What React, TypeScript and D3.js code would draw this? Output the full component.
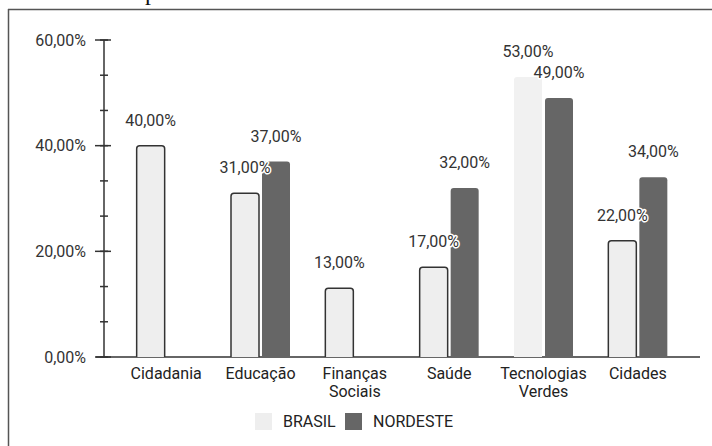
import React, { useEffect, useRef } from "react";
import * as d3 from "d3";

const W = 712;
const H = 446;

const categories = ["Cidadania", "Educação", "Finanças\nSociais", "Saúde", "Tecnologias\nVerdes", "Cidades"];
const seriesNames = ["BRASIL", "NORDESTE"];
const brasil = [40, 31, 13, 17, 53, 22];
const nordeste: (number | null)[] = [null, 37, null, 32, 49, 34];
const yTicks = [0, 20, 40, 60];

const COLORS = ["#eeeeee", "#666666"];
const FONT = "Roboto, 'Liberation Sans', sans-serif";

const fmt = (v: number) => v.toFixed(2).replace(".", ",") + "%";

export default function App() {
  const ref = useRef<SVGSVGElement>(null);

  useEffect(() => {
    const svg = d3.select(ref.current);
    svg.selectAll("*").remove();

    // frame (only top and left edges are visible in the crop)
    svg.append("line").attr("x1", 8).attr("x2", W).attr("y1", 9.5).attr("y2", 9.5)
      .attr("stroke", "#555").attr("stroke-width", 1.5);
    svg.append("line").attr("x1", 8.5).attr("x2", 8.5).attr("y1", 9).attr("y2", H)
      .attr("stroke", "#555").attr("stroke-width", 1.5);
    // cut-off heading above the frame
    svg.append("text").attr("x", 145).attr("y", 0).attr("font-family", "'Liberation Serif', serif")
      .attr("font-size", 24).attr("fill", "#111").text("p");

    const x = d3.scaleBand<string>().domain(categories).range([119, 685]).paddingInner(0);
    const y = d3.scaleLinear().domain([0, 60]).range([357, 40]);
    const barW = 28;
    const gap = 3;

    // y axis
    const g = svg.append("g");
    g.append("line").attr("x1", 104).attr("x2", 104).attr("y1", y(60)).attr("y2", y(0))
      .attr("stroke", "#333").attr("stroke-width", 1.5);
    const minor = d3.range(0, 60.01, 20 / 3);
    minor.forEach((t) => {
      g.append("line").attr("x1", 100).attr("x2", 108).attr("y1", y(t)).attr("y2", y(t))
        .attr("stroke", "#333").attr("stroke-width", 1.5);
    });
    yTicks.forEach((t) => {
      g.append("line").attr("x1", 95).attr("x2", 111).attr("y1", y(t)).attr("y2", y(t))
        .attr("stroke", "#333").attr("stroke-width", 1.5);
      g.append("text").attr("x", 86).attr("y", y(t)).attr("dy", "0.35em")
        .attr("text-anchor", "end").attr("font-family", FONT).attr("font-size", 16)
        .attr("fill", "#333").text(fmt(t));
    });
    // x baseline
    g.append("line").attr("x1", 96).attr("x2", 700).attr("y1", y(0)).attr("y2", y(0))
      .attr("stroke", "#333").attr("stroke-width", 1.5);

    const barPath = (x0: number, w: number, top: number, bottom: number, r: number) =>
      `M${x0},${bottom}V${top + r}Q${x0},${top} ${x0 + r},${top}H${x0 + w - r}Q${x0 + w},${top} ${x0 + w},${top + r}V${bottom}`;

    const bars = svg.append("g");
    const labels: { x: number; y: number; t: string }[] = [];
    categories.forEach((c, i) => {
      const cx = (x(c) as number) + x.bandwidth() / 2;
      const vals = [brasil[i], nordeste[i]];
      vals.forEach((v, s) => {
        if (v === null) return;
        const x0 = s === 0 ? cx - gap / 2 - barW : cx + gap / 2;
        const top = y(v);
        const outlined = s === 0 && i !== 4;
        bars.append("path").attr("d", barPath(x0, barW, top, y(0), 3))
          .attr("fill", s === 0 && i === 4 ? "#f1f1f1" : COLORS[s])
          .attr("stroke", outlined ? "#333" : "none").attr("stroke-width", 1.5);
        labels.push({ x: x0 + barW / 2, y: top - 20, t: fmt(v) });
      });
    });

    const lab = svg.append("g").attr("font-family", FONT).attr("font-size", 16).attr("text-anchor", "middle");
    labels.forEach((l) => {
      lab.append("text").attr("x", l.x).attr("y", l.y).attr("fill", "#333")
        .attr("stroke", "#fff").attr("stroke-width", 3).attr("paint-order", "stroke")
        .attr("stroke-linejoin", "round").text(l.t);
    });

    // category labels
    const cl = svg.append("g").attr("font-family", FONT).attr("font-size", 16).attr("text-anchor", "middle").attr("fill", "#222");
    categories.forEach((c) => {
      const cx = (x(c) as number) + x.bandwidth() / 2;
      c.split("\n").forEach((line, k) => {
        cl.append("text").attr("x", cx).attr("y", 379 + k * 18).text(line);
      });
    });

    // legend
    const leg = svg.append("g").attr("font-family", FONT).attr("font-size", 16).attr("fill", "#222");
    const legX = [255, 345];
    seriesNames.forEach((n, s) => {
      leg.append("rect").attr("x", legX[s]).attr("y", 413).attr("width", 17).attr("height", 17)
        .attr("fill", COLORS[s]);
      leg.append("text").attr("x", legX[s] + 28).attr("y", 421.5).attr("dy", "0.35em").text(n);
    });
  }, []);

  return (
    <svg ref={ref} width={W} height={H}
      style={{ position: "fixed", left: 0, top: 0, background: "#fff" }} />
  );
}
